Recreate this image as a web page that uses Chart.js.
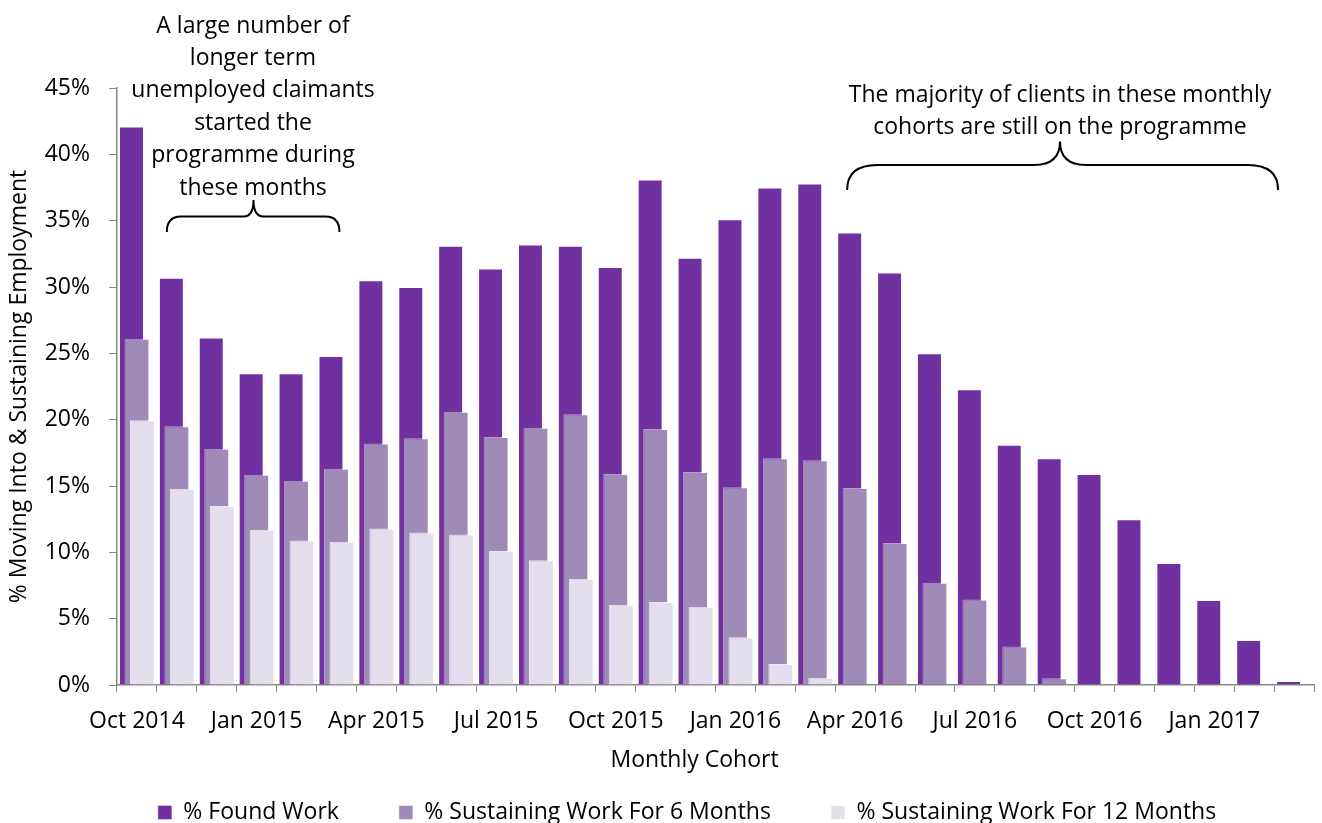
<!DOCTYPE html>
<html>
<head>
<meta charset="utf-8">
<script src="https://cdn.jsdelivr.net/npm/chart.js@4.4.1/dist/chart.umd.min.js"></script>
<style>
  html, body { margin: 0; padding: 0; background: #fff; overflow: hidden; }
  canvas { display: block; }
</style>
</head>
<body>
<canvas id="chart" width="1374" height="840"></canvas>
<script>
// monthly cohorts
var months = [
  "Oct 2014", "Nov 2014", "Dec 2014", "Jan 2015", "Feb 2015", "Mar 2015",
  "Apr 2015", "May 2015", "Jun 2015", "Jul 2015", "Aug 2015", "Sep 2015",
  "Oct 2015", "Nov 2015", "Dec 2015", "Jan 2016", "Feb 2016", "Mar 2016",
  "Apr 2016", "May 2016", "Jun 2016", "Jul 2016", "Aug 2016", "Sep 2016",
  "Oct 2016", "Nov 2016", "Dec 2016", "Jan 2017", "Feb 2017", "Mar 2017"
];
var foundWork = [42.1, 30.7, 26.2, 23.5, 23.5, 24.8, 30.5, 30.0, 33.1, 31.4,
  33.2, 33.1, 31.5, 38.1, 32.2, 35.1, 37.5, 37.8, 34.1, 31.1,
  25.0, 22.3, 18.1, 17.1, 15.9, 12.5, 9.2, 6.4, 3.4, 0.3];
var sixMonths = [26.1, 19.5, 17.8, 15.85, 15.4, 16.3, 18.2, 18.6, 20.6, 18.7,
  19.4, 20.4, 15.9, 19.3, 16.05, 14.9, 17.1, 16.95, 14.85, 10.7,
  7.7, 6.45, 2.9, 0.5, null, null, null, null, null, null];
var twelveMonths = [19.95, 14.8, 13.5, 11.7, 10.9, 10.8, 11.8, 11.5, 11.35, 10.1,
  9.4, 8.0, 6.05, 6.25, 5.9, 3.6, 1.58, 0.55, null, null,
  null, null, null, null, null, null, null, null, null, null];
var yTicks = [0, 5, 10, 15, 20, 25, 30, 35, 40, 45];

var FONT = "'Open Sans', sans-serif";

// draw datasets in index order so later series sit on top of earlier ones
var drawOrder = {
  id: "drawOrder",
  beforeDatasetsDraw: function (chart) {
    var metas = chart.getSortedVisibleDatasetMetas().slice();
    metas.sort(function (a, b) { return a.index - b.index; });
    metas.forEach(function (m) { m.controller.draw(); });
    return false;
  }
};

function brace(ctx, x1, x2, xm, yEnd, yLine, yTip, r1, r2) {
  ctx.beginPath();
  ctx.moveTo(x1, yEnd);
  ctx.quadraticCurveTo(x1, yLine, x1 + r1, yLine);
  ctx.lineTo(xm - r2, yLine);
  ctx.quadraticCurveTo(xm, yLine, xm, yTip);
  ctx.quadraticCurveTo(xm, yLine, xm + r2, yLine);
  ctx.lineTo(x2 - r1, yLine);
  ctx.quadraticCurveTo(x2, yLine, x2, yEnd);
  ctx.stroke();
}

var notes = {
  id: "notes",
  afterDraw: function (chart) {
    var ctx = chart.ctx;
    var xs = chart.scales.x;
    ctx.save();
    ctx.fillStyle = "#000";
    ctx.strokeStyle = "#000";
    ctx.lineWidth = 2;
    ctx.font = "23px " + FONT;
    ctx.textAlign = "center";
    ctx.textBaseline = "alphabetic";
    var left = ["A large number of", "longer term", "unemployed claimants",
      "started the", "programme during", "these months"];
    left.forEach(function (t, i) { ctx.fillText(t, 253, 32.5 + i * 32.4); });
    var right = ["The majority of clients in these monthly",
      "cohorts are still on the programme"];
    right.forEach(function (t, i) { ctx.fillText(t, 1060, 101.5 + i * 32.4); });

    var l1 = xs.getPixelForValue(1) - 10, l2 = xs.getPixelForValue(5) + 3;
    brace(ctx, l1, l2, 253.5, 232, 216.5, 200, 14, 10);
    var r1 = xs.getPixelForValue(18) - 8, r2 = xs.getPixelForValue(29) - 16;
    brace(ctx, r1, r2, 1060, 190, 165, 141.5, 30, 26);
    ctx.restore();
  }
};

new Chart(document.getElementById("chart"), {
  type: "bar",
  data: {
    labels: months,
    datasets: [
      {
        label: "% Found Work",
        data: foundWork,
        backgroundColor: "#7030A0",
        borderColor: "rgba(255,255,255,0.35)",
        borderWidth: 1
      },
      {
        label: "% Sustaining Work For 6 Months",
        data: sixMonths,
        backgroundColor: "#A08AB8",
        borderColor: "rgba(255,255,255,0.5)",
        borderWidth: 1
      },
      {
        label: "% Sustaining Work For 12 Months",
        data: twelveMonths,
        backgroundColor: "#E4DFEC",
        borderColor: "rgba(255,255,255,0.8)",
        borderWidth: 1
      }
    ]
  },
  options: {
    responsive: false,
    animation: false,
    devicePixelRatio: 1,
    categoryPercentage: 0.4125,
    barPercentage: 4.55,
    layout: { padding: { left: 0, right: 0, top: 88, bottom: 6 } },
    plugins: {
      legend: {
        position: "bottom",
        labels: {
          color: "#000",
          boxWidth: 14,
          boxHeight: 14,
          padding: 60,
          font: { family: FONT, size: 23 }
        }
      },
      tooltip: { enabled: false }
    },
    scales: {
      x: {
        afterFit: function (s) { s.height = 56; },
        grid: {
          drawOnChartArea: false,
          tickLength: 7,
          color: "#868686"
        },
        border: { color: "#868686", width: 1.5 },
        ticks: {
          autoSkip: false,
          maxRotation: 0,
          minRotation: 0,
          padding: 16,
          color: "#000",
          font: { family: FONT, size: 23 },
          callback: function (v, i) { return i % 3 === 0 ? months[i] : ""; }
        },
        title: {
          display: true,
          text: "Monthly Cohort       ",
          color: "#000",
          padding: { top: 0, bottom: -33 },
          font: { family: FONT, size: 23 }
        }
      },
      y: {
        min: yTicks[0],
        max: yTicks[yTicks.length - 1],
        afterFit: function (s) { s.width = 117; },
        afterBuildTicks: function (s) {
          s.ticks = yTicks.map(function (v) { return { value: v }; });
        },
        grid: {
          drawOnChartArea: false,
          tickLength: 8,
          color: "#868686"
        },
        border: { color: "#868686", width: 1.5 },
        ticks: {
          padding: 19,
          color: "#000",
          font: { family: FONT, size: 23 },
          callback: function (v) { return v + "%"; }
        },
        title: {
          display: true,
          text: "% Moving Into & Sustaining Employment",
          color: "#000",
          padding: { top: 6, bottom: 0 },
          font: { family: FONT, size: 23 }
        }
      },
      // empty right-hand strip, keeps the plot edge while the legend centres on the wider canvas
      spacer: {
        type: "linear",
        position: "right",
        afterFit: function (s) { s.width = 60; },
        grid: { display: false },
        border: { display: false },
        ticks: { display: false }
      }
    }
  },
  plugins: [drawOrder, notes]
});
</script>
</body>
</html>
